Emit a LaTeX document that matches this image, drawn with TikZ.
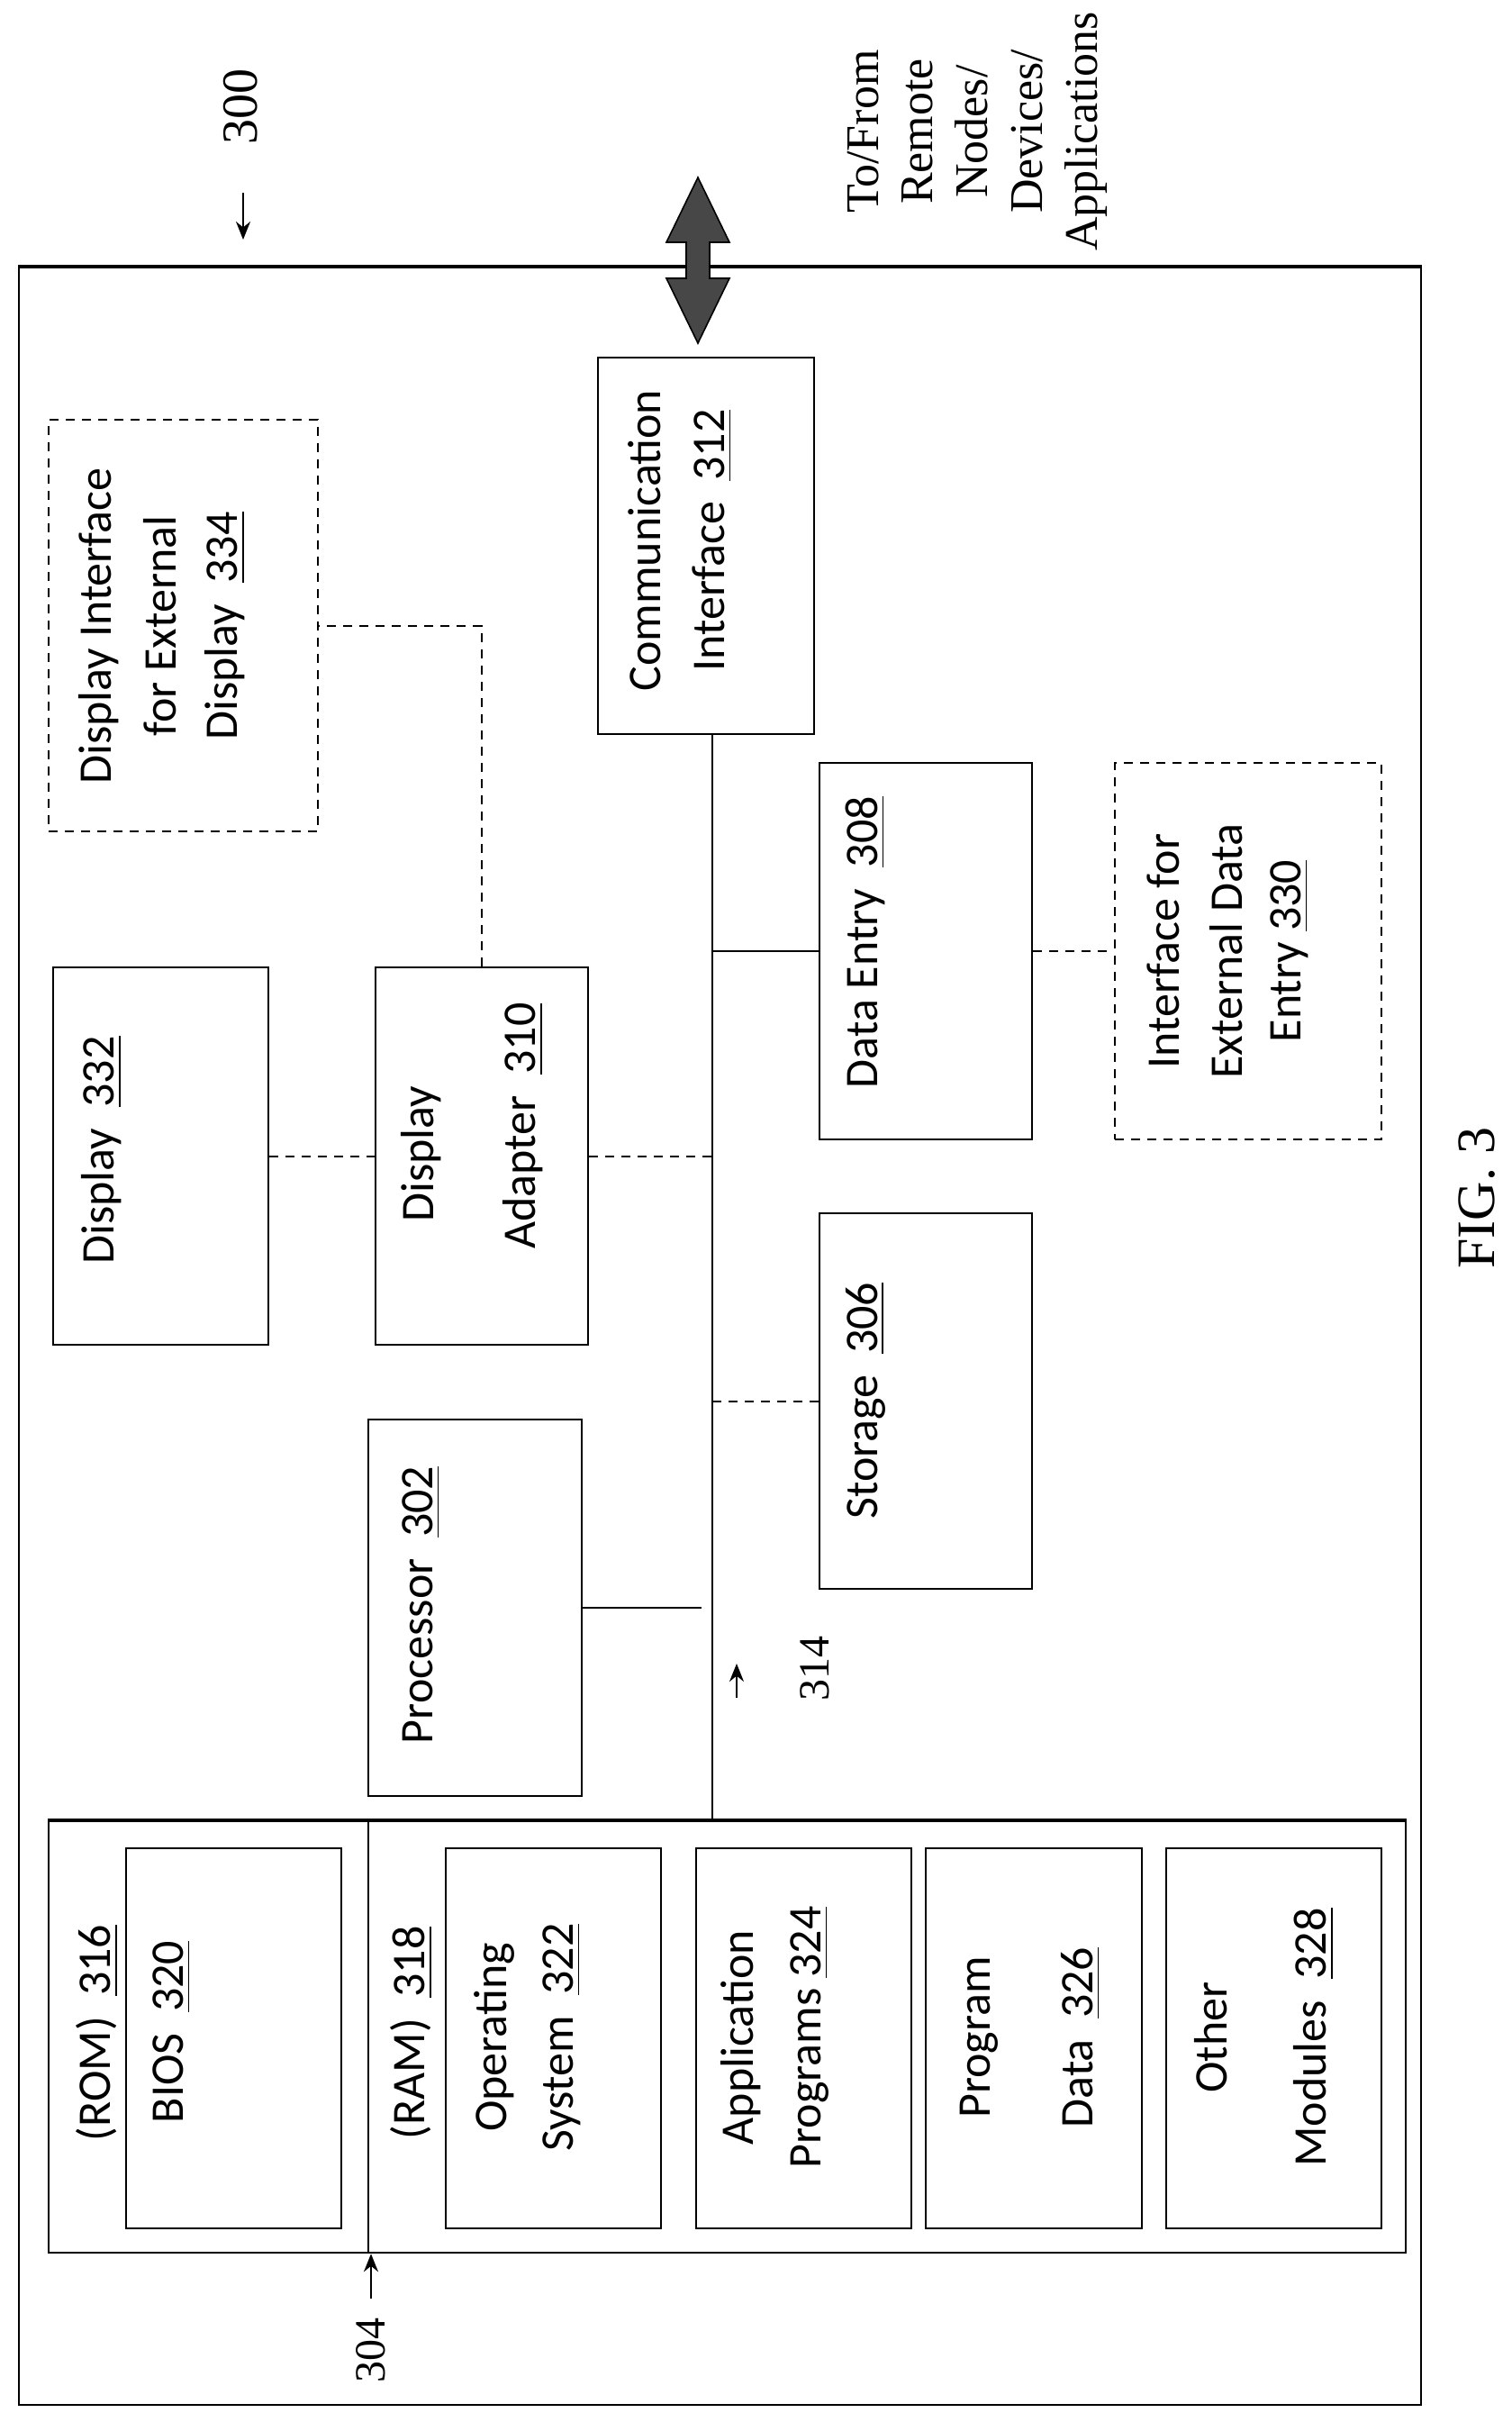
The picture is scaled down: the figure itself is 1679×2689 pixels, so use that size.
\documentclass[tikz,border=0pt]{standalone}
\usepackage{fontspec}
\setmainfont{Liberation Serif}
\newfontfamily\boxfont{Carlito}
\usetikzlibrary{fit,arrows.meta}
\begin{document}
\begin{tikzpicture}[x=0.25pt,y=-0.25pt,
  box/.style={draw,line width=0.6pt,inner sep=0pt},
  dbox/.style={box,dash pattern=on 2.5pt off 2pt},
  dcon/.style={line width=0.5pt,dash pattern=on 2.5pt off 2pt},
  con/.style={line width=0.5pt},
  t/.style={rotate=90,font=\boxfont\fontsize{13}{15}\selectfont,inner sep=0pt},
  lab/.style={rotate=90,font=\fontsize{13}{15}\selectfont,inner sep=0pt},
  ref/.style={line width=0.6pt,-{Stealth[length=5pt,width=4pt]}}]
\useasboundingbox (0,0) rectangle (1679,2689);
% outer box
\node (outer) [draw,line width=0.4pt,inner sep=0pt,fit={(21,297)(1578,2670)}] {};
\draw[line width=1pt] (outer.north west) -- (outer.north east);
% labels
\node (l300) [lab,font=\fontsize{14}{16}\selectfont] at (267,118) {300};
\coordinate (a300s) at (270,214);
\coordinate (a300e) at (270,266);
\draw[ref] (a300s) -- (a300e);
\node (remote) [lab,align=center,font=\fontsize{13}{15.2}\selectfont] at (1085,146) {To/From\\Remote\\Nodes/\\Devices/\\Applications};
\node (fig) [lab,font=\fontsize{15}{17}\selectfont] at (1640,1330) {FIG. 3};
% double arrow
\node (dbl) [coordinate] at (775,289) {};
\filldraw[fill=black!72,draw=black,line width=0.4pt] (775,197) -- (810,269) -- (788,269) -- (788,309) -- (810,309) -- (775,381) -- (740,309) -- (762,309) -- (762,269) -- (740,269) -- cycle;
% boxes
\node (comm) [box,fit={(664,397)(904,815)}] {};
\node (di) [dbox,fit={(54,466)(353,923)}] {};
\node (de) [box,fit={(910,847)(1146,1265)}] {};
\node (ide) [dbox,fit={(1238,847)(1534,1265)}] {};
\node (disp) [box,fit={(59,1074)(298,1493)}] {};
\node (da) [box,fit={(417,1074)(653,1493)}] {};
\node (st) [box,fit={(910,1347)(1146,1764)}] {};
\node (pr) [box,fit={(409,1576)(646,1994)}] {};
\node (mem) [box,fit={(54,2022)(1561,2501)}] {};
\draw[line width=1pt] (mem.north west) -- (mem.north east);
\node (bios) [box,fit={(140,2052)(379,2474)}] {};
\node (os) [box,fit={(495,2052)(734,2474)}] {};
\node (app) [box,fit={(773,2052)(1012,2474)}] {};
\node (pd) [box,fit={(1028,2052)(1268,2474)}] {};
\node (om) [box,fit={(1295,2052)(1534,2474)}] {};
\coordinate (dv) at (409,2022);
\draw[con] (dv) -- (dv |- mem.south);
% bus
\coordinate (bus) at (791,815);
\draw[con] (bus) -- (bus |- mem.north);
\draw[con] (pr.east) -- ([xshift=-3pt]pr.east -| bus);
\draw[dcon] (st.west -| bus) -- (st.west);
\draw[con] (de.west -| bus) -- (de.west);
\draw[dcon] (de.east) -- (ide.west);
\draw[dcon] (da.east) -- (da.east -| bus);
\draw[dcon] (disp.east) -- (da.west);
\draw[dcon] (da.north) -- (da.north |- di.east) -- (di.east);
% texts
\node (tc1) [t] at (716,600) {Communication};
\node (tc2) [t] at (791,600) {Interface\ \ \underline{312}};
\node (td1) [t] at (110,695) {Display Interface};
\node (td2) [t] at (178,695) {for External};
\node (td3) [t] at (250,695) {Display\ \ \underline{334}};
\node (tdisp) [t] at (113,1277) {Display\ \ \underline{332}};
\node (tda1) [t] at (468,1281) {Display};
\node (tda2) [t] at (581,1250) {Adapter\ \ \underline{310}};
\node (tde) [t] at (961,1046) {Data Entry\ \ \underline{308}};
\node (ti1) [t] at (1292,1056) {Interface for};
\node (ti2) [t] at (1362,1056) {External Data};
\node (ti3) [t] at (1432,1056) {Entry \underline{330}};
\node (tst) [t] at (961,1555) {Storage\ \ \underline{306}};
\node (tpr) [t] at (468,1782) {Processor\ \ \underline{302}};
\node (trom) [t] at (108,2257) {(ROM)\ \ \underline{316}};
\node (tbios) [t] at (191,2256) {BIOS\ \ \underline{320}};
\node (tram) [t] at (457,2257) {(RAM)\ \ \underline{318}};
\node (tos1) [t] at (549,2262) {Operating};
\node (tos2) [t] at (624,2262) {System\ \ \underline{322}};
\node (tap1) [t] at (823,2262) {Application};
\node (tap2) [t] at (899,2262) {Programs \underline{324}};
\node (tpd1) [t] at (1087,2262) {Program};
\node (tpd2) [t] at (1200,2262) {Data\ \ \underline{326}};
\node (tom1) [t] at (1345,2262) {Other};
\node (tom2) [t] at (1459,2262) {Modules\ \ \underline{328}};
% reference arrows
\coordinate (a314) at (818,1885);
\draw[ref] (a314) -- ++(0,-38);
\node (l314) [lab,font=\fontsize{12}{14}\selectfont] at (905,1852) {314};
\coordinate (a304) at (412,2552);
\draw[ref] (a304) -- (a304 |- mem.south);
\node (l304) [lab,font=\fontsize{12}{14}\selectfont] at (412,2609) {304};
\end{tikzpicture}
\end{document}
